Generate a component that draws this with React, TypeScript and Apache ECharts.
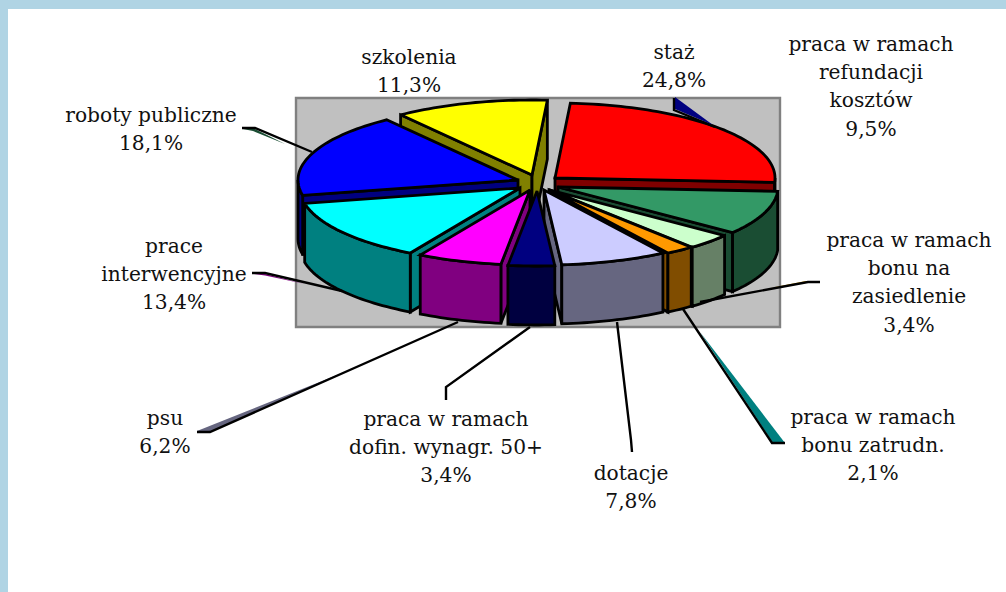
import React, { useEffect, useRef } from "react";
import * as echarts from "echarts";

// ---------- data ----------
const categories = [
  "staż",
  "praca w ramach refundacji kosztów",
  "praca w ramach bonu na zasiedlenie",
  "praca w ramach bonu zatrudn.",
  "dotacje",
  "praca w ramach dofin. wynagr. 50+",
  "psu",
  "prace interwencyjne",
  "roboty publiczne",
  "szkolenia",
];
const values = [24.8, 9.5, 3.4, 2.1, 7.8, 3.4, 6.2, 13.4, 18.1, 11.3];
const labelLines = [
  ["staż"],
  ["praca w ramach", "refundacji", "kosztów"],
  ["praca w ramach", "bonu na", "zasiedlenie"],
  ["praca w ramach", "bonu zatrudn."],
  ["dotacje"],
  ["praca w ramach", "dofin. wynagr. 50+"],
  ["psu"],
  ["prace", "interwencyjne"],
  ["roboty publiczne"],
  ["szkolenia"],
];

// ---------- styles ----------
const topColors = ["#FF0000", "#339966", "#CCFFCC", "#FF9900", "#CCCCFF", "#000080", "#FF00FF", "#00FFFF", "#0000FF", "#FFFF00"];
const wallColors = ["#800000", "#1A4D33", "#668066", "#804D00", "#666680", "#000040", "#800080", "#008080", "#000080", "#808000"];

// ---------- layout ----------
const RX = 220;
const RY = 75;
const DEPTH = 59;
const ROTATION = 4;
// apex of each exploded slice on the page
const apexes = [[555, 178], [558, 187], [550, 190], [549, 190], [544, 190], [537, 191], [530, 190], [520, 188], [518, 180], [532, 175]];
// back-to-front painting order
const paintOrder = [0, 9, 8, 1, 7, 2, 6, 3, 4, 5];
// label centre x, first line centre y
const labelAnchors = [[674, 52], [871, 44], [909, 240], [873, 417], [631, 473], [446, 419], [165, 418], [174, 246], [151, 115], [409, 57]];
const LINE_H = 28.2;
// leader polylines and the coloured sliver beneath each
const leaders = [
  [[674, 98], [674, 110], [715, 127]],
  [[700, 302], [808, 282], [820, 282]],
  [[683, 309], [772, 443], [785, 443]],
  [[617, 322], [631, 440], [632, 452]],
  [[530, 327], [446, 387], [446, 400]],
  [[458, 322], [210, 432], [197, 432]],
  [[342, 291], [265, 273], [252, 273]],
  [[312, 152], [255, 128], [242, 128]],
];
const slivers = [
  { color: "#000080", points: [[675, 97], [675, 109], [713, 125]] },
  { color: "#CC9900", points: [[770, 288], [806, 281], [818, 281]] },
  { color: "#008080", points: [[700, 332], [785, 443], [773, 443]] },
  { color: "#666680", points: [[347, 371], [197, 431], [210, 432]] },
  { color: "#800080", points: [[305, 284], [265, 274], [254, 274], [265, 275.5]] },
  { color: "#1A4D33", points: [[285, 144], [255, 129], [243, 129], [253, 131]] },
];

const rad = (d: number) => (d * Math.PI) / 180;
const total = values.reduce((a, b) => a + b, 0);
const starts: number[] = [];
values.reduce((acc, v, i) => {
  starts[i] = acc;
  return acc + (v / total) * 360;
}, ROTATION);

function rim(ax: number, ay: number, deg: number, drop = 0) {
  return [ax + RX * Math.sin(rad(deg)), ay - RY * Math.cos(rad(deg)) + drop];
}
function arc(ax: number, ay: number, a0: number, a1: number, drop = 0) {
  const n = Math.max(2, Math.ceil((a1 - a0) / 1.5));
  const out: number[][] = [];
  for (let i = 0; i <= n; i++) out.push(rim(ax, ay, a0 + ((a1 - a0) * i) / n, drop));
  return out;
}
const BORDER = { stroke: "#000", lineWidth: 2.8, lineJoin: "miter" as const, miterLimit: 3 };
function poly(points: number[][], fill: string) {
  return { type: "polygon", shape: { points }, style: { fill, ...BORDER } };
}

function renderSlice(_: any, api: any) {
  const idx = api.value(0) as number;
  const a0 = starts[idx];
  const a1 = a0 + (values[idx] / total) * 360;
  const [ax, ay] = apexes[idx];
  const children: any[] = [];
  const wall = wallColors[idx];
  const radialWall = (deg: number) => {
    const t = rim(ax, ay, deg);
    const b = rim(ax, ay, deg, DEPTH);
    children.push(poly([[ax, ay], t, b, [ax, ay + DEPTH]], wall));
  };
  if (Math.sin(rad(a0)) < 0) radialWall(a0);
  if (Math.sin(rad(a1)) > 0) radialWall(a1);
  // the outer wall is seen only on the front half, 90..270 degrees
  const f0 = Math.max(a0, 90);
  const f1 = Math.min(a1, 270);
  if (f1 > f0) {
    children.push(poly([...arc(ax, ay, f0, f1), ...arc(ax, ay, f0, f1, DEPTH).reverse()], wall));
  }
  children.push(poly([[ax, ay], ...arc(ax, ay, a0, a1)], topColors[idx]));
  return { type: "group", children };
}

function renderLabel(_: any, api: any) {
  const idx = api.value(0) as number;
  const [x, y] = labelAnchors[idx];
  const lines = [...labelLines[idx], values[idx].toFixed(1).replace(".", ",") + "%"];
  return {
    type: "group",
    children: lines.map((text, i) => ({
      type: "text",
      x,
      y: y + i * LINE_H,
      style: {
        text,
        fill: "#111",
        font: '20.2px "DejaVu Serif"',
        align: "center",
        verticalAlign: "middle",
      },
    })),
  };
}

export default function App() {
  const ref = useRef<HTMLDivElement>(null);
  useEffect(() => {
    document.body.style.margin = "0";
    const chart = echarts.init(ref.current!, null, { renderer: "svg" });
    chart.setOption({
      animation: false,
      backgroundColor: "#FFFFFF",
      graphic: {
        elements: [
          { type: "rect", z: -10, shape: { x: 0, y: 0, width: 1006, height: 9 }, style: { fill: "#B0D4E4" } },
          { type: "rect", z: -10, shape: { x: 0, y: 0, width: 8, height: 592 }, style: { fill: "#B0D4E4" } },
          {
            type: "rect",
            z: -9,
            shape: { x: 296, y: 98, width: 484, height: 229 },
            style: { fill: "#C0C0C0", stroke: "#808080", lineWidth: 2.4 },
          },
        ],
      },
      series: [
        {
          type: "custom",
          name: "slices",
          coordinateSystem: "none",
          silent: true,
          z: 2,
          renderItem: renderSlice,
          data: paintOrder.map((i) => ({ name: categories[i], value: [i, values[i]] })),
        },
        {
          type: "custom",
          name: "leaders",
          coordinateSystem: "none",
          silent: true,
          z: 3,
          renderItem: () => ({
            type: "group",
            children: [
              ...slivers.map((s) => ({ type: "polygon", shape: { points: s.points }, style: { fill: s.color } })),
              ...leaders.map((points) => ({
                type: "polyline",
                shape: { points },
                style: { stroke: "#000", lineWidth: 2.4, fill: "none" },
              })),
            ],
          }),
          data: [[0]],
        },
        {
          type: "custom",
          name: "labels",
          coordinateSystem: "none",
          silent: true,
          z: 4,
          renderItem: renderLabel,
          data: categories.map((_, i) => [i]),
        },
      ],
    });
    return () => chart.dispose();
  }, []);
  return <div ref={ref} style={{ width: 1006, height: 592 }} />;
}
